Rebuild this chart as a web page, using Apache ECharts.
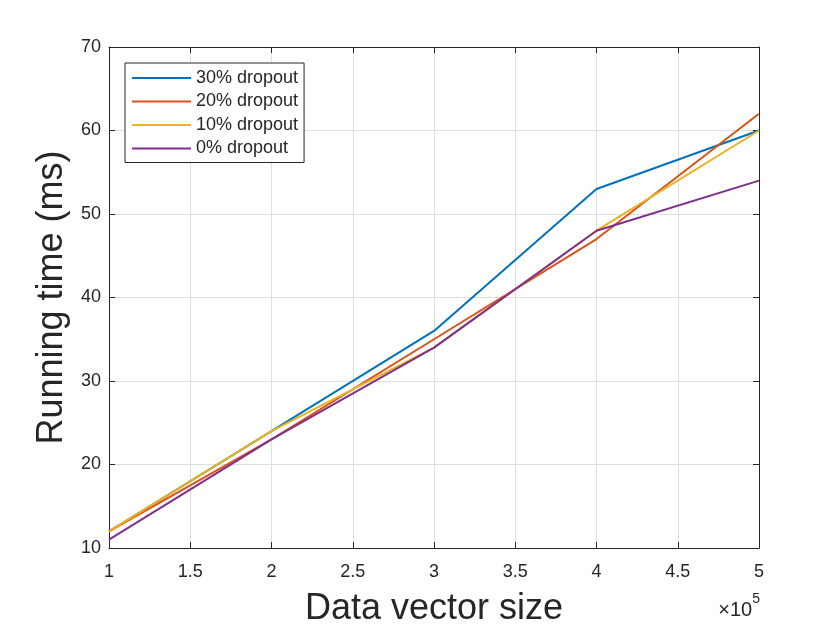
<!DOCTYPE html>
<html>
<head>
<meta charset="utf-8">
<script src="https://cdn.jsdelivr.net/npm/echarts@6/dist/echarts.min.js"></script>
<style>
  html, body { margin: 0; padding: 0; background: #fff; }
  #main { width: 840px; height: 630px; }
</style>
</head>
<body>
<div id="main"></div>
<script>
// data vector size, in units of 1e5
var sizes = [1, 2, 3, 4, 5];
var seriesNames = ['30% dropout', '20% dropout', '10% dropout', '0% dropout'];
// running time (ms)
var drop30 = [12, 24, 36, 53, 60];
var drop20 = [12, 23, 35, 47, 62];
var drop10 = [12, 24, 34, 48, 60];
var drop0 = [11, 23, 34, 48, 54];
var colors = ['#0072BD', '#D95319', '#EDB120', '#7E2F8E'];

var axisColor = '#262626';
var font = 'Liberation Sans, Arial, Helvetica, sans-serif';

function pairs(ys) {
  return sizes.map(function (x, i) { return [x, ys[i]]; });
}

var chart = echarts.init(document.getElementById('main'), null, { renderer: 'canvas' });

var allData = [drop30, drop20, drop10, drop0];
var series = allData.map(function (ys, i) {
  return {
    name: seriesNames[i],
    type: 'line',
    data: pairs(ys),
    symbol: 'none',
    lineStyle: { color: colors[i], width: 2 },
    itemStyle: { color: colors[i] },
    z: 3 + i
  };
});

var option = {
  backgroundColor: '#fff',
  animation: false,
  grid: { left: 109, right: 81, top: 47, bottom: 82, outerBoundsMode: 'none', containLabel: false },
  legend: {
    orient: 'vertical',
    left: 125,
    top: 63,
    data: seriesNames,
    itemWidth: 59,
    itemHeight: 10,
    itemGap: 5.5,
    padding: [6, 6, 5, 6],
    backgroundColor: '#fff',
    borderColor: axisColor,
    borderWidth: 1,
    itemStyle: { opacity: 0 },
    lineStyle: { width: 2 },
    textStyle: { fontFamily: font, fontSize: 18, color: axisColor, lineHeight: 18 }
  },
  xAxis: [{
    type: 'value',
    min: 1, max: 5, interval: 0.5,
    name: 'Data vector size',
    nameLocation: 'middle',
    nameGap: 43,
    nameTextStyle: { fontFamily: font, fontSize: 36, color: axisColor },
    axisLine: { lineStyle: { color: axisColor, width: 1 } },
    axisTick: { inside: true, length: 6, lineStyle: { color: axisColor } },
    axisLabel: { fontFamily: font, fontSize: 18, color: axisColor, margin: 15 },
    splitLine: { show: true, lineStyle: { color: '#dedede', width: 1 } }
  }, {
    type: 'value',
    position: 'top',
    min: 1, max: 5, interval: 0.5,
    axisLine: { lineStyle: { color: axisColor, width: 1 } },
    axisTick: { inside: true, length: 6, lineStyle: { color: axisColor } },
    axisLabel: { show: false },
    splitLine: { show: false }
  }],
  yAxis: [{
    type: 'value',
    min: 10, max: 70, interval: 10,
    name: 'Running time (ms)',
    nameLocation: 'middle',
    nameGap: 38,
    nameTextStyle: { fontFamily: font, fontSize: 36, color: axisColor },
    axisLine: { show: true, lineStyle: { color: axisColor, width: 1 } },
    axisTick: { show: true, inside: true, length: 6, lineStyle: { color: axisColor } },
    axisLabel: { fontFamily: font, fontSize: 18, color: axisColor, margin: 8 },
    splitLine: { show: true, lineStyle: { color: '#dedede', width: 1 } }
  }, {
    type: 'value',
    position: 'right',
    min: 10, max: 70, interval: 10,
    axisLine: { show: true, lineStyle: { color: axisColor, width: 1 } },
    axisTick: { show: true, inside: true, length: 6, lineStyle: { color: axisColor } },
    axisLabel: { show: false },
    splitLine: { show: false }
  }],
  graphic: [{
    type: 'text',
    right: 80,
    top: 592,
    style: {
      text: '{a|×10}{b|5}',
      rich: {
        a: { fontFamily: font, fontSize: 20, fill: axisColor, verticalAlign: 'bottom', lineHeight: 28 },
        b: { fontFamily: font, fontSize: 14, fill: axisColor, verticalAlign: 'top', lineHeight: 28, padding: [0, 0, 12, 0] }
      }
    }
  }],
  series: series
};

chart.setOption(option);
</script>
</body>
</html>
